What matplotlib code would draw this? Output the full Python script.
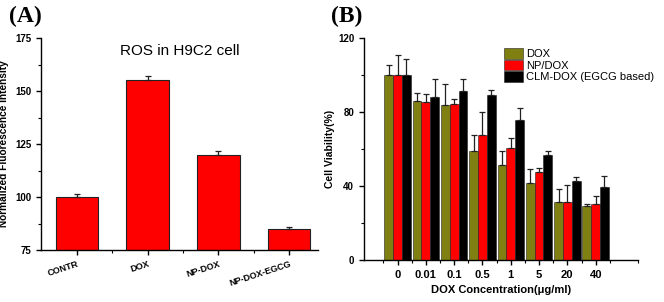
import numpy as np
import matplotlib
matplotlib.use('Agg')
import matplotlib.pyplot as plt
from matplotlib.ticker import MultipleLocator

plt.rcParams['font.family'] = ['Liberation Sans', 'DejaVu Sans']

# panel A data
ros_labels = ['CONTR', 'DOX', 'NP-DOX', 'NP-DOX-EGCG']
ros_vals = [100, 155, 120, 85]
ros_err = [1.5, 2.2, 1.5, 1.0]

# panel B data
conc_labels = ['0', '0.01', '0.1', '0.5', '1', '5', '20', '40']
dox_vals = [100, 86.1, 83.9, 59.2, 51.5, 41.6, 31.2, 29.4]
dox_err = [5.6, 4.3, 11.0, 8.4, 7.7, 7.7, 7.2, 0.8]
np_vals = [100, 85.2, 84.3, 67.4, 60.6, 47.7, 31.4, 30.1]
np_err = [10.7, 4.7, 2.7, 12.4, 5.4, 2.0, 9.0, 4.3]
clm_vals = [100, 87.9, 91.3, 89.1, 75.9, 56.9, 42.7, 39.5]
clm_err = [8.7, 9.9, 6.5, 2.9, 6.3, 2.1, 2.0, 5.9]
series_names = ['DOX', 'NP/DOX', 'CLM-DOX (EGCG based)']
series_colors = ['#7f7f12', '#ff0000', '#000000']

fig = plt.figure(figsize=(6.64, 3.02), dpi=100)

def style_axes(ax):
    for s in ['top', 'right']:
        ax.spines[s].set_visible(False)
    for s in ['left', 'bottom']:
        ax.spines[s].set_linewidth(1.0)
    ax.tick_params(which='major', direction='out', length=3.5, width=1.0,
                   labelsize=7)
    ax.tick_params(which='minor', direction='out', length=2, width=0.8)
    for lab in ax.get_xticklabels() + ax.get_yticklabels():
        lab.set_fontweight('bold')

# ---- (A)
axA = fig.add_axes([0.0617, 0.172, 0.4173, 0.702])
xa = np.arange(len(ros_labels))
axA.bar(xa, ros_vals, width=0.6, color='#ff0000', edgecolor='#222222',
        linewidth=0.8, zorder=2)
axA.errorbar(xa, ros_vals, yerr=[np.zeros(4), ros_err], fmt='none',
             ecolor='#222222', elinewidth=0.9, capsize=2, capthick=0.9, zorder=3)
axA.set_ylim(75, 175)
axA.set_xlim(-0.51, 3.41)
axA.set_yticks([75, 100, 125, 150, 175])
axA.yaxis.set_minor_locator(MultipleLocator(12.5))
axA.set_xticks(xa)
axA.set_xticks(xa[:-1] + 0.5, minor=True)
axA.set_xticklabels(ros_labels, rotation=18, ha='right', rotation_mode='anchor')
style_axes(axA)
for lab in axA.get_xticklabels():
    lab.set_fontsize(6.5)
axA.set_ylabel('Normalized Fluorescence Intensity', fontsize=7.3, fontweight='bold')
axA.text(0.5, 0.94, 'ROS in H9C2 cell', transform=axA.transAxes, ha='center',
         va='center', fontsize=11)
fig.text(0.013, 0.98, '(A)', fontsize=17, fontweight='bold',
         family=['Liberation Serif', 'DejaVu Serif'], va='top')

# ---- (B)
axB = fig.add_axes([0.548, 0.139, 0.413, 0.735])
xb = np.arange(len(conc_labels))
w = 0.31
all_vals = [dox_vals, np_vals, clm_vals]
all_err = [dox_err, np_err, clm_err]
for i in range(3):
    pos = xb + (i - 1) * w
    axB.bar(pos, all_vals[i], width=w, color=series_colors[i], edgecolor='#222222',
            linewidth=0.4, label=series_names[i], zorder=2)
    axB.errorbar(pos, all_vals[i], yerr=[np.zeros(len(xb)), all_err[i]], fmt='none',
                 ecolor='#222222', elinewidth=0.9, capsize=2, capthick=0.9, zorder=3)
axB.set_ylim(0, 120)
axB.set_xlim(-1.19, 8.49)
axB.set_yticks([0, 40, 80, 120])
axB.yaxis.set_minor_locator(MultipleLocator(20))
axB.set_xticks(xb)
axB.set_xticks(np.arange(-1, 9) + 0.5, minor=True)
axB.set_xticklabels(conc_labels)
style_axes(axB)
for lab in axB.get_xticklabels():
    lab.set_fontsize(8)
axB.set_ylabel('Cell Viability(%)', fontsize=7.5, fontweight='bold', labelpad=2)
axB.set_xlabel('DOX Concentration(\u03bcg/ml)', fontsize=8, fontweight='bold')
axB.legend(loc='upper right', bbox_to_anchor=(1.095, 1.0), frameon=False, fontsize=8,
           handlelength=1.7, handleheight=1.1, handletextpad=0.3, labelspacing=0.05)
fig.text(0.499, 0.98, '(B)', fontsize=17, fontweight='bold',
         family=['Liberation Serif', 'DejaVu Serif'], va='top')

fig.savefig('out.png', dpi=100)
